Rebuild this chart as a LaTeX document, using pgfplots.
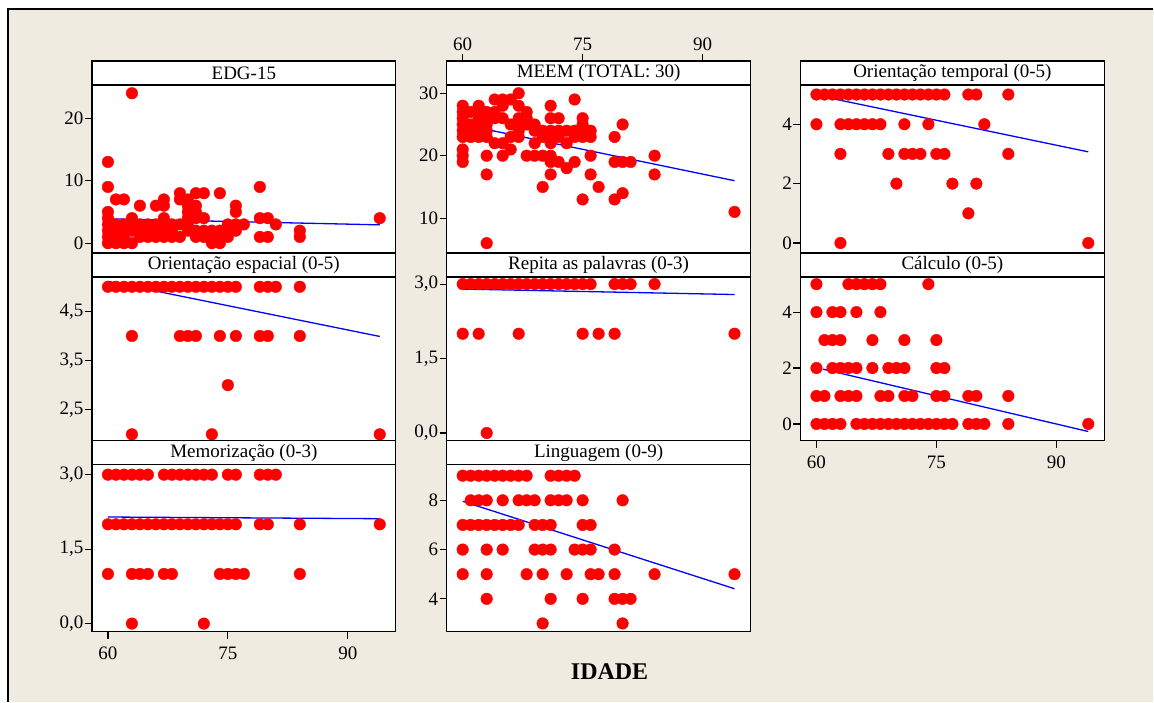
\documentclass[border=0pt]{standalone}
\usepackage{fontspec}
\setmainfont{Liberation Serif}
\usepackage{pgfplots}
\pgfplotsset{compat=1.18}
\definecolor{bg}{RGB}{240,235,225}
\newcommand{\fs}{\fontsize{19}{21}\selectfont}
\pgfplotsset{
  panel/.style={
    scale only axis, width=304pt,
    xmin=58, xmax=96,
    axis line style={line width=1.5pt},
    tick style={line width=1.2pt, black},
    tick align=outside, major tick length=7pt,
    ytick pos=left, xtick=\empty,
    axis background/.style={fill=white},
    every tick label/.append style={font=\fs},
    yticklabel style={inner xsep=1.5pt},
    /pgf/number format/assume math mode=true,
    clip=false, anchor=north west,
  },
  dec/.style={yticklabel style={/pgf/number format/.cd, fixed, fixed zerofill, precision=1, use comma}},
  xlow/.style={xtick={60,75,90}, xtick pos=left, xticklabel pos=left, xticklabel style={yshift=-5pt}},
  xup/.style={xtick={60,75,90}, xtick pos=right, xticklabel pos=right},
  dots/.style={only marks, mark=*, mark size=5.8pt, mark options={draw=red, fill=red}},
  fit/.style={blue, line width=1.3pt, no marks},
}
\newcommand{\ptitle}[1]{%
  \draw[line width=1.5pt, fill=white] (rel axis cs:0,1) rectangle ([yshift=-24pt]rel axis cs:1,1);
  \node[font=\fs] at ([yshift=-12pt]rel axis cs:0.5,1) {#1};}
\begin{document}
\begin{tikzpicture}
\fill[white] (0,0) rectangle (1154pt,-702pt);
\fill[bg] (8pt,-9pt) rectangle (1154pt,-702pt);
\draw[line width=1.5pt] (8pt,-702pt) -- (8pt,-9pt) -- (1154pt,-9pt);

% EDG-15
\begin{axis}[panel, at={(92pt,-61pt)}, height=192pt, ymin=-1.55, ymax=29.17, ytick={0,10,20}]
\addplot[dots] coordinates {(60,0) (60,1) (60,2) (60,3) (60,4) (60,5) (60,9) (60,13)
(61,0) (61,1) (61,2) (61,3) (61,7) (62,0) (62,1) (62,2) (62,3) (62,7)
(63,0) (63,2) (63,3) (63,4) (63,24) (64,1) (64,2) (64,3) (64,6) (65,1) (65,2) (65,3)
(66,1) (66,2) (66,3) (66,6) (67,1) (67,2) (67,3) (67,4) (67,6) (67,7) (68,1) (68,2) (68,3)
(69,1) (69,3) (69,7) (69,8) (70,2) (70,3) (70,4) (70,5) (70,6) (70,7)
(71,1) (71,2) (71,4) (71,5) (71,6) (71,8) (72,1) (72,2) (72,4) (72,8)
(73,0) (73,1) (73,2) (74,0) (74,1) (74,2) (74,8) (75,1) (75,2) (75,3)
(76,2) (76,3) (76,5) (76,6) (77,3) (79,1) (79,4) (79,9) (80,1) (80,4) (81,3)
(84,1) (84,2) (94,4)};
\addplot[fit] coordinates {(60,3.9) (94,2.93)};
\ptitle{EDG-15}
\end{axis}

% MEEM
\begin{axis}[panel, xup, at={(447pt,-61pt)}, height=192pt, ymin=4.45, ymax=35.17, ytick={10,20,30}]
\addplot[dots] coordinates {(67,30) (64,29) (65,29) (66,29) (74,29)
(60,28) (62,28) (65,28) (67,28) (71,28)
(60,27) (61,27) (62,27) (63,27) (64,27) (68,27)
(60,26) (62,26) (63,26) (64,26) (65,26) (67,26) (68,26) (71,26) (72,26) (75,26)
(60,25) (61,25) (62,25) (63,25) (66,25) (67,25) (68,25) (69,25) (75,25) (80,25)
(60,24) (61,24) (62,24) (63,24) (67,24) (69,24) (70,24) (71,24) (72,24) (73,24) (74,24) (75,24) (76,24)
(60,23) (61,23) (62,23) (63,23) (66,23) (67,23) (70,23) (71,23) (72,23) (74,23) (75,23) (76,23) (79,23)
(64,22) (65,22) (69,22) (71,22) (73,22) (60,21) (66,21)
(60,20) (63,20) (65,20) (68,20) (69,20) (70,20) (71,20) (76,20) (84,20)
(60,19) (71,19) (72,19) (74,19) (79,19) (80,19) (81,19) (73,18)
(63,17) (71,17) (76,17) (84,17) (70,15) (77,15) (80,14) (75,13) (79,13) (94,11) (63,6)};
\addplot[fit] coordinates {(63,24.2) (94,16.0)};
\ptitle{MEEM (TOTAL: 30)}
\end{axis}

% Orientacao temporal
\begin{axis}[panel, at={(801pt,-61pt)}, height=192pt, ymin=-0.33, ymax=6.13, ytick={0,2,4}]
\addplot[dots] coordinates {(60,5) (61,5) (62,5) (63,5) (64,5) (65,5) (66,5) (67,5) (68,5) (69,5)
(70,5) (71,5) (72,5) (73,5) (74,5) (75,5) (76,5) (79,5) (80,5) (84,5)
(60,4) (63,4) (64,4) (65,4) (66,4) (67,4) (68,4) (71,4) (74,4) (81,4)
(63,3) (69,3) (71,3) (72,3) (73,3) (75,3) (76,3) (84,3)
(70,2) (77,2) (80,2) (79,1) (63,0) (94,0)};
\addplot[fit] coordinates {(60.6,4.94) (94,3.07)};
\ptitle{Orientação temporal (0-5)}
\end{axis}

% Orientacao espacial
\begin{axis}[panel, dec, at={(92pt,-253pt)}, height=188pt, ymin=1.87, ymax=5.69, ytick={2.5,3.5,4.5}]
\addplot[dots] coordinates {(60,5) (61,5) (62,5) (63,5) (64,5) (65,5) (66,5) (67,5) (68,5) (69,5)
(70,5) (71,5) (72,5) (73,5) (74,5) (75,5) (76,5) (79,5) (80,5) (81,5) (84,5)
(63,4) (69,4) (70,4) (71,4) (74,4) (76,4) (79,4) (80,4) (84,4)
(75,3) (63,2) (73,2) (94,2)};
\addplot[fit] coordinates {(60,5.11) (94,3.99)};
\ptitle{Orientação espacial (0-5)}
\end{axis}

% Repita as palavras
\begin{axis}[panel, dec, at={(447pt,-253pt)}, height=188pt, ymin=-0.155, ymax=3.63, ytick={0,1.5,3}]
\addplot[dots] coordinates {(60,3) (61,3) (62,3) (63,3) (64,3) (65,3) (66,3) (67,3) (68,3) (69,3)
(70,3) (71,3) (72,3) (73,3) (74,3) (75,3) (76,3) (79,3) (80,3) (81,3) (84,3)
(60,2) (62,2) (67,2) (75,2) (77,2) (79,2) (94,2) (63,0)};
\addplot[fit] coordinates {(60,2.90) (94,2.79)};
\ptitle{Repita as palavras (0-3)}
\end{axis}

% Calculo
\begin{axis}[panel, xlow, at={(801pt,-253pt)}, height=188pt, ymin=-0.6, ymax=6.12, ytick={0,2,4}]
\addplot[dots] coordinates {(60,5) (64,5) (65,5) (66,5) (67,5) (68,5) (74,5)
(60,4) (62,4) (63,4) (65,4) (68,4)
(61,3) (62,3) (63,3) (67,3) (71,3) (75,3)
(60,2) (62,2) (63,2) (64,2) (65,2) (67,2) (69,2) (70,2) (71,2) (75,2) (76,2)
(60,1) (61,1) (63,1) (64,1) (65,1) (68,1) (69,1) (71,1) (72,1) (75,1) (76,1) (79,1) (80,1) (84,1)
(60,0) (61,0) (62,0) (63,0) (65,0) (66,0) (67,0) (68,0) (69,0) (70,0) (71,0) (72,0) (73,0)
(74,0) (75,0) (76,0) (77,0) (79,0) (80,0) (81,0) (84,0) (94,0)};
\addplot[fit] coordinates {(60.8,1.96) (94,-0.27)};
\ptitle{Cálculo (0-5)}
\end{axis}

% Memorizacao
\begin{axis}[panel, dec, xlow, at={(92pt,-441pt)}, height=191pt, ymin=-0.161, ymax=3.684, ytick={0,1.5,3}]
\addplot[dots] coordinates {(60,3) (61,3) (62,3) (63,3) (64,3) (65,3) (67,3) (68,3) (69,3) (70,3)
(71,3) (72,3) (73,3) (75,3) (76,3) (79,3) (80,3) (81,3)
(60,2) (61,2) (62,2) (63,2) (64,2) (65,2) (66,2) (67,2) (68,2) (69,2) (70,2) (71,2) (72,2)
(73,2) (74,2) (75,2) (76,2) (79,2) (80,2) (84,2) (94,2)
(60,1) (63,1) (64,1) (65,1) (67,1) (68,1) (74,1) (75,1) (76,1) (77,1) (84,1)
(63,0) (72,0)};
\addplot[fit] coordinates {(60,2.147) (94,2.113)};
\ptitle{Memorização (0-3)}
\end{axis}

% Linguagem
\begin{axis}[panel, at={(447pt,-441pt)}, height=191pt, ymin=2.67, ymax=10.42, ytick={4,6,8}]
\addplot[dots] coordinates {(60,9) (61,9) (62,9) (63,9) (64,9) (65,9) (66,9) (67,9) (68,9)
(71,9) (72,9) (73,9) (74,9)
(61,8) (62,8) (63,8) (65,8) (67,8) (68,8) (69,8) (71,8) (72,8) (73,8) (75,8) (80,8)
(60,7) (61,7) (62,7) (63,7) (64,7) (65,7) (66,7) (67,7) (69,7) (70,7) (71,7) (75,7) (76,7)
(60,6) (63,6) (65,6) (69,6) (70,6) (71,6) (74,6) (75,6) (76,6) (79,6)
(60,5) (63,5) (68,5) (70,5) (73,5) (76,5) (77,5) (79,5) (84,5) (94,5)
(63,4) (71,4) (75,4) (79,4) (80,4) (81,4) (70,3) (80,3)};
\addplot[fit] coordinates {(60,7.96) (94,4.41)};
\ptitle{Linguagem (0-9)}
\end{axis}

\node[font=\fontsize{24}{28}\selectfont\bfseries] at (610pt,-672pt) {IDADE};
\end{tikzpicture}
\end{document}
